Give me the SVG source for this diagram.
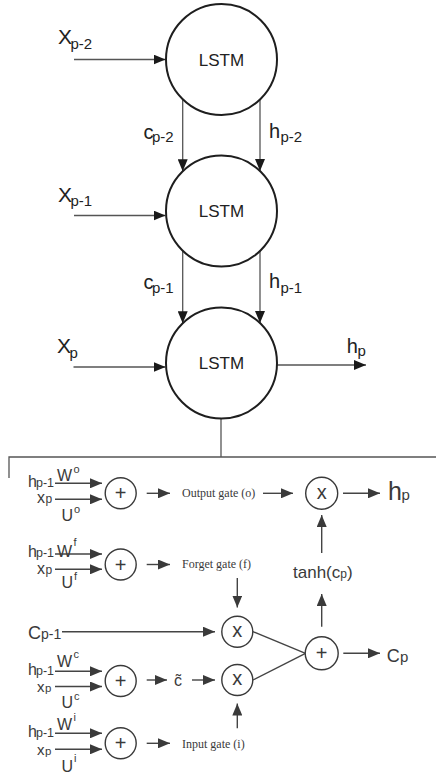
<svg xmlns="http://www.w3.org/2000/svg" width="436" height="776" viewBox="0 0 436 776">
<style>
.bg{fill:#ffffff}
.node{fill:#ffffff;stroke:#1e1e1e;stroke-width:2}
.ln{fill:none;stroke:#555;stroke-width:1.3}
.ln2{fill:none;stroke:#444;stroke-width:1.4}
.op{fill:#ffffff;stroke:#3a3a3a;stroke-width:1.4}
.t{font-family:"Liberation Sans",Arial,sans-serif;fill:#222}
.u{font-family:"Liberation Sans",Arial,sans-serif;fill:#3a3a3a}
.g{font-family:"Liberation Serif","Times New Roman",serif;fill:#3a3a3a;font-size:12px}
.m{text-anchor:middle}
</style>
<defs>
<marker id="ah" viewBox="0 0 12 10" markerUnits="userSpaceOnUse" markerWidth="12" markerHeight="10" refX="12" refY="5" orient="auto"><path d="M0,0 L12,5 L0,10 z" fill="#1a1a1a"/></marker>
<marker id="ah2" viewBox="0 0 12 10" markerUnits="userSpaceOnUse" markerWidth="12" markerHeight="10" refX="12" refY="5" orient="auto"><path d="M0,0 L12,5 L0,10 z" fill="#3a3a3a"/></marker>
</defs>
<rect class="bg" x="0" y="0" width="436" height="776"/>

<g id="connectors">
<line class="ln" x1="74" y1="59.5" x2="165.5" y2="59.5" marker-end="url(#ah)"/>
<line class="ln" x1="74" y1="215.5" x2="165.5" y2="215.5" marker-end="url(#ah)"/>
<line class="ln" x1="73.5" y1="367" x2="165.5" y2="367" marker-end="url(#ah)"/>
<line class="ln" x1="182.7" y1="99" x2="182.7" y2="171.3" marker-end="url(#ah)"/>
<line class="ln" x1="260" y1="99" x2="260" y2="171" marker-end="url(#ah)"/>
<line class="ln" x1="182.7" y1="250.5" x2="182.7" y2="323.3" marker-end="url(#ah)"/>
<line class="ln" x1="260" y1="250.5" x2="260" y2="323" marker-end="url(#ah)"/>
<line class="ln" x1="277" y1="365" x2="366" y2="365" marker-end="url(#ah)"/>
<line class="ln" x1="221" y1="418.5" x2="221" y2="457"/>
<polyline class="ln" points="436,457 9,457 9,478"/>

<line class="ln2" x1="55" y1="483.3" x2="102" y2="483.3" marker-end="url(#ah2)"/>
<line class="ln2" x1="55" y1="499.3" x2="102" y2="499.3" marker-end="url(#ah2)"/>
<line class="ln2" x1="146.7" y1="493.3" x2="170" y2="493.3" marker-end="url(#ah2)"/>
<line class="ln2" x1="263" y1="493.3" x2="293" y2="493.3" marker-end="url(#ah2)"/>
<line class="ln2" x1="343" y1="493.3" x2="380" y2="493.3" marker-end="url(#ah2)"/>

<line class="ln2" x1="55" y1="554" x2="102" y2="554" marker-end="url(#ah2)"/>
<line class="ln2" x1="55" y1="569.3" x2="102" y2="569.3" marker-end="url(#ah2)"/>
<line class="ln2" x1="146.7" y1="564.5" x2="170" y2="564.5" marker-end="url(#ah2)"/>
<line class="ln2" x1="321.7" y1="553" x2="321.7" y2="515" marker-end="url(#ah2)"/>
<line class="ln2" x1="237.3" y1="578" x2="237.3" y2="607.5" marker-end="url(#ah2)"/>

<line class="ln2" x1="62" y1="631.7" x2="215" y2="631.7" marker-end="url(#ah2)"/>
<line class="ln2" x1="253" y1="631.7" x2="305.5" y2="653.3"/>
<line class="ln2" x1="253" y1="680" x2="305.5" y2="653.3"/>
<line class="ln2" x1="321.7" y1="626.7" x2="321.7" y2="594" marker-end="url(#ah2)"/>
<line class="ln2" x1="343.3" y1="653.3" x2="380" y2="653.3" marker-end="url(#ah2)"/>

<line class="ln2" x1="55" y1="671.3" x2="102" y2="671.3" marker-end="url(#ah2)"/>
<line class="ln2" x1="55" y1="686.5" x2="102" y2="686.5" marker-end="url(#ah2)"/>
<line class="ln2" x1="146.7" y1="680" x2="167" y2="680" marker-end="url(#ah2)"/>
<line class="ln2" x1="192" y1="680" x2="215" y2="680" marker-end="url(#ah2)"/>
<line class="ln2" x1="237.3" y1="728.3" x2="237.3" y2="703.5" marker-end="url(#ah2)"/>

<line class="ln2" x1="55" y1="733.3" x2="102" y2="733.3" marker-end="url(#ah2)"/>
<line class="ln2" x1="55" y1="749.3" x2="102" y2="749.3" marker-end="url(#ah2)"/>
<line class="ln2" x1="146.7" y1="743.3" x2="170" y2="743.3" marker-end="url(#ah2)"/>
</g>

<g id="lstm1"><circle class="node" cx="221.5" cy="59.5" r="55.5"/><text class="t m" x="221.5" y="65.5" font-size="17">LSTM</text></g>
<g id="lstm2"><circle class="node" cx="221.5" cy="211" r="55.5"/><text class="t m" x="221.5" y="217" font-size="17">LSTM</text></g>
<g id="lstm3"><circle class="node" cx="221.5" cy="363" r="55.5"/><text class="t m" x="221.5" y="369" font-size="17">LSTM</text></g>

<g id="upper-labels">
<text class="t" x="58" y="43.5" font-size="21">X<tspan x="70.5" y="48.5" font-size="15">p-2</tspan></text>
<text class="t" x="58" y="201.7" font-size="21">X<tspan x="70.5" y="206" font-size="15">p-1</tspan></text>
<text class="t" x="57" y="353.3" font-size="21">X<tspan x="69.5" y="357.5" font-size="15">p</tspan></text>
<text class="t" x="143.5" y="138.5" font-size="20">c<tspan x="152" y="142" font-size="15">p-2</tspan></text>
<text class="t" x="269" y="137.5" font-size="20">h<tspan x="280.5" y="142" font-size="15">p-2</tspan></text>
<text class="t" x="143.5" y="289" font-size="20">c<tspan x="152" y="292.5" font-size="15">p-1</tspan></text>
<text class="t" x="269" y="288" font-size="20">h<tspan x="280.5" y="292.5" font-size="15">p-1</tspan></text>
<text class="t" x="346.7" y="352.5" font-size="20">h<tspan x="357.5" y="356" font-size="15">p</tspan></text>
</g>

<g id="gate-output">
<text class="u" x="28" y="487" font-size="16">h<tspan x="36" font-size="12.5">p-1</tspan></text>
<text class="u" x="57" y="480.5" font-size="16">W<tspan x="73.5" y="473" font-size="11">o</tspan></text>
<text class="u" x="37" y="503" font-size="16">x<tspan x="45.5" font-size="12">p</tspan></text>
<text class="u" x="61.5" y="521" font-size="16">U<tspan x="74" y="513" font-size="11">o</tspan></text>
<circle class="op" cx="120.7" cy="493.3" r="15.5"/><text class="u m" x="120.7" y="500.3" font-size="20">+</text>
<text class="g" x="182" y="497.3">Output gate (o)</text>
</g>

<g id="mult-output">
<circle class="op" cx="321.7" cy="493.3" r="16"/><text class="u m" x="321.7" y="498.5" font-size="20">x</text>
<text class="u" x="388" y="500" font-size="25">h<tspan x="401.5" font-size="15">p</tspan></text>
</g>

<g id="gate-forget">
<text class="u" x="28" y="557.3" font-size="16">h<tspan x="36" font-size="12.5">p-1</tspan></text>
<text class="u" x="57" y="556.7" font-size="16">W<tspan x="73.5" y="546" font-size="11">f</tspan></text>
<text class="u" x="37" y="574" font-size="16">x<tspan x="45.5" font-size="12">p</tspan></text>
<text class="u" x="61.5" y="588" font-size="16">U<tspan x="74" y="580" font-size="11">f</tspan></text>
<circle class="op" cx="120.7" cy="564.5" r="15.5"/><text class="u m" x="120.7" y="571.5" font-size="20">+</text>
<text class="g" x="182" y="568">Forget gate (f)</text>
</g>

<g id="tanh">
<text class="u" x="293" y="578" font-size="17">tanh(c<tspan font-size="12">p</tspan>)</text>
</g>

<g id="cell-prev">
<text class="u" x="28" y="639.3" font-size="18">C<tspan x="41" font-size="14">p-1</tspan></text>
<circle class="op" cx="237.3" cy="631.7" r="15.5"/><text class="u m" x="237.3" y="637" font-size="20">x</text>
</g>

<g id="cell-sum">
<circle class="op" cx="321.7" cy="653.3" r="16.5"/><text class="u m" x="321.7" y="660.3" font-size="20">+</text>
<text class="u" x="386.7" y="661.7" font-size="18">C<tspan x="400" font-size="15">p</tspan></text>
</g>

<g id="gate-candidate">
<text class="u" x="28" y="674.5" font-size="16">h<tspan x="36" font-size="12.5">p-1</tspan></text>
<text class="u" x="57" y="667" font-size="16">W<tspan x="73.5" y="657.5" font-size="11">c</tspan></text>
<text class="u" x="37" y="691.5" font-size="15">x<tspan x="45" font-size="11.5">p</tspan></text>
<text class="u" x="61.5" y="707.5" font-size="16">U<tspan x="74" y="699.5" font-size="11">c</tspan></text>
<circle class="op" cx="120.7" cy="681" r="15.5"/><text class="u m" x="120.7" y="688" font-size="20">+</text>
<text class="u" x="174" y="685.5" font-size="16">c̃</text>
<circle class="op" cx="237.3" cy="680" r="15.5"/><text class="u m" x="237.3" y="685.3" font-size="20">x</text>
</g>

<g id="gate-input">
<text class="u" x="28" y="737" font-size="16">h<tspan x="36" font-size="12.5">p-1</tspan></text>
<text class="u" x="57" y="730" font-size="16">W<tspan x="73.5" y="720.5" font-size="11">i</tspan></text>
<text class="u" x="37" y="754.5" font-size="15">x<tspan x="45" font-size="11.5">p</tspan></text>
<text class="u" x="61.5" y="772" font-size="16">U<tspan x="74" y="762" font-size="11">i</tspan></text>
<circle class="op" cx="120.7" cy="743.3" r="15.5"/><text class="u m" x="120.7" y="750.3" font-size="20">+</text>
<text class="g" x="182" y="747.5">Input gate (i)</text>
</g>
</svg>
